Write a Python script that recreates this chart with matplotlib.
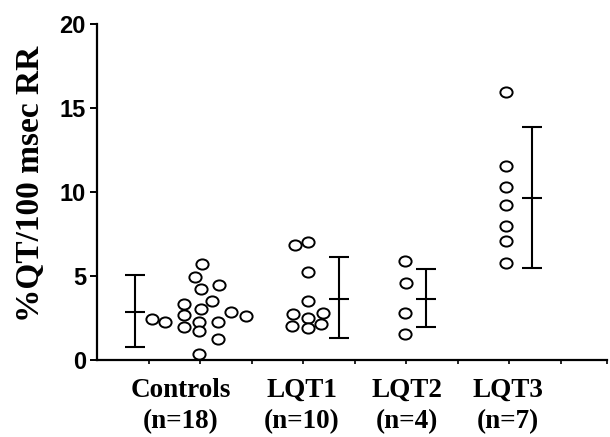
import numpy as np
import matplotlib
matplotlib.use('Agg')
import matplotlib.pyplot as plt
from matplotlib.path import Path

# data ----------------------------------------------------------------
groups = ['Controls\n(n=18)', 'LQT1\n(n=10)', 'LQT2\n(n=4)', 'LQT3\n(n=7)']
group_pos = [1.63, 3.98, 6.02, 7.98]

controls_x = [1.07, 1.32, 2.03, 1.90, 2.01, 2.36, 2.24, 1.68, 1.68, 1.68,
              2.01, 1.99, 1.99, 2.34, 2.34, 2.60, 2.89, 1.98]
controls_y = [2.44, 2.24, 5.70, 4.96, 4.23, 4.46, 3.51, 3.33, 2.68, 1.98,
              3.04, 2.28, 1.74, 2.28, 1.27, 2.84, 2.60, 0.34]

lqt1_x = [3.84, 4.10, 4.09, 4.10, 3.80, 4.10, 4.38, 3.79, 4.10, 4.35]
lqt1_y = [6.85, 7.04, 5.26, 3.51, 2.72, 2.48, 2.82, 2.02, 1.92, 2.13]

lqt2_x = [5.98, 5.99, 5.97, 5.97]
lqt2_y = [5.91, 4.57, 2.82, 1.53]

lqt3_x = [7.94, 7.94, 7.94, 7.94, 7.94, 7.94, 7.94]
lqt3_y = [15.97, 11.57, 10.32, 9.23, 7.98, 7.10, 5.79]

# mean +/- SD bars
bar_x = [0.74, 4.70, 6.39, 8.44]
means = [2.86, 3.61, 3.61, 9.63]
sd_lo = [2.07, 2.32, 1.66, 4.17]
sd_hi = [2.20, 2.50, 1.81, 4.22]

# plot ----------------------------------------------------------------
serif = 'Liberation Serif'
sans = 'Liberation Sans'

# slightly wide open circle
v = Path.unit_circle().vertices * np.array([1.2, 1.0])
oval = Path(v, Path.unit_circle().codes)

fig = plt.figure(figsize=(6.1, 4.37), dpi=100)
ax = fig.add_axes([0.159, 0.1762, 0.836, 0.7688])

for xs, ys in [(controls_x, controls_y), (lqt1_x, lqt1_y),
               (lqt2_x, lqt2_y), (lqt3_x, lqt3_y)]:
    ax.plot(xs, ys, linestyle='none', marker=oval, ms=8.8, mfc='white',
            mec='black', mew=1.4, clip_on=False, zorder=3)

ax.errorbar(bar_x, means, yerr=[sd_lo, sd_hi], fmt='none', ecolor='black',
            elinewidth=1.5, capsize=7, capthick=1.5, zorder=2)
ax.plot(bar_x, means, linestyle='none', marker='_', ms=14, mew=1.5,
        color='black', zorder=2)

ax.set_xlim(0, 9.9)
ax.set_ylim(0, 20)
ax.spines['top'].set_visible(False)
ax.spines['right'].set_visible(False)
ax.spines['left'].set_linewidth(1.6)
ax.spines['bottom'].set_linewidth(1.6)

ax.set_yticks([0, 5, 10, 15, 20])
ax.set_yticklabels(['0', '5', '10', '15', '20'], fontfamily=sans,
                   fontweight='bold', fontsize=17)
ax.tick_params(axis='y', direction='out', length=5, width=1.4, pad=3)

ax.set_xticks(list(range(1, 10)) + [9.9])
ax.set_xticklabels([])
ax.tick_params(axis='x', which='major', direction='out', length=3, width=1.2)
ax.set_xticks(group_pos, minor=True)
ax.set_xticklabels(groups, minor=True, fontfamily=serif, fontweight='bold',
                   fontsize=19.5, linespacing=1.3)
ax.tick_params(axis='x', which='minor', length=0, pad=13)

ax.set_ylabel('%QT/100 msec RR', fontfamily=serif, fontweight='bold',
              fontsize=24)
ax.yaxis.set_label_coords(-0.10, 0.525)

fig.savefig('out.png', dpi=100)
